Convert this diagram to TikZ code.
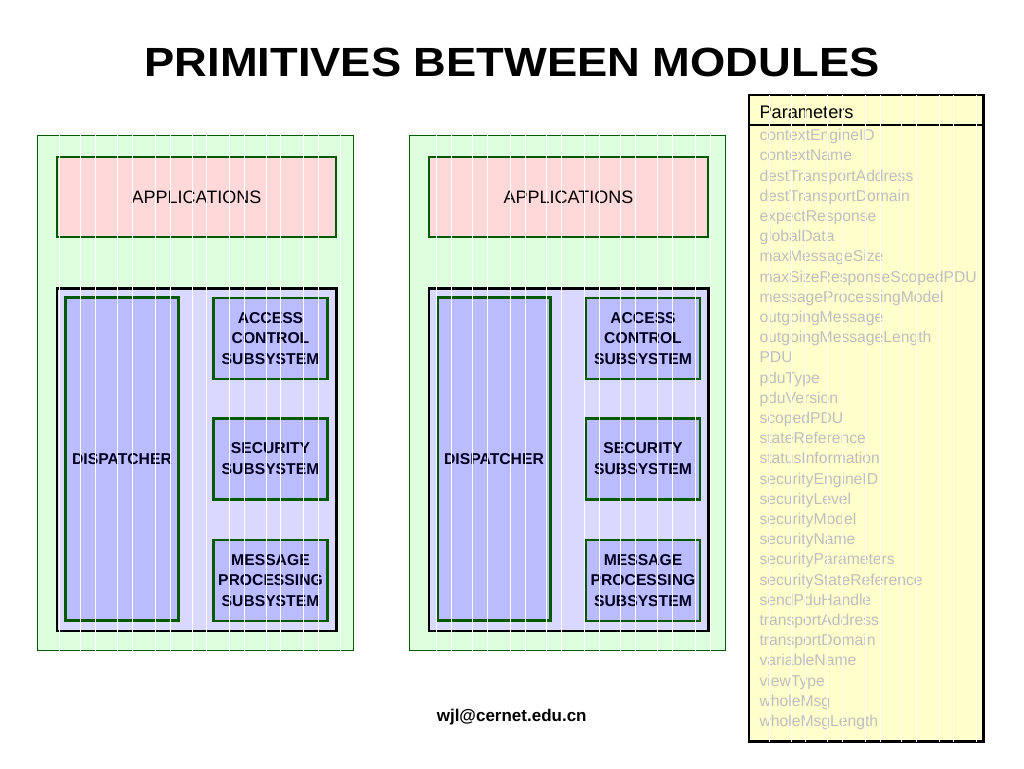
\documentclass[tikz,border=0pt]{standalone}
\usepackage{fontspec}
\setmainfont{Liberation Sans}
\definecolor{panelfill}{RGB}{221,255,221}
\definecolor{panelline}{RGB}{0,90,0}
\definecolor{appfill}{RGB}{255,217,217}
\definecolor{innerfill}{RGB}{217,217,255}
\definecolor{subfill}{RGB}{187,187,255}
\definecolor{paramfill}{RGB}{255,255,204}
\definecolor{graytext}{RGB}{190,190,190}
\definecolor{navytext}{RGB}{0,0,30}
\tikzset{
  panel/.style={draw=panelline, line width=1.5pt, fill=panelfill, inner sep=0pt},
  appbox/.style={draw=panelline, line width=2.5pt, fill=appfill, inner sep=0pt,
    minimum width=279pt, minimum height=80pt, font=\fontsize{18}{20}\selectfont},
  innerbox/.style={draw=black, line width=2.5pt, fill=innerfill, inner sep=0pt,
    minimum width=279.5pt, minimum height=342.7pt},
  subbox/.style={draw=panelline, line width=2.5pt, fill=subfill, inner sep=0pt,
    text=navytext, align=center, font=\fontsize{15.7}{20.5}\selectfont\bfseries},
  parambox/.style={draw=black, line width=2.5pt, fill=paramfill, inner sep=0pt},
  stripe/.style={draw=white, line width=0.75pt},
  item/.style={anchor=base west, inner sep=0pt, text=graytext, font=\fontsize{15.7}{18}\selectfont}
}
\begin{document}
\begin{tikzpicture}[x=1pt,y=-1pt]
\useasboundingbox (0,0) rectangle (1024,768);
\fill[white] (0,0) rectangle (1024,768);

% title
\node[anchor=base, inner sep=0pt] (title) at (512,77)
  {\scalebox{1}[0.9]{\fontsize{45.3}{50}\selectfont\bfseries PRIMITIVES BETWEEN MODULES}};

% ---------- left panel ----------
\node[panel, minimum width=316pt, minimum height=515pt] (lp) at (195.3,393.2) {};
\node[appbox] (lapp) at (196.5,197) {APPLICATIONS};
\node[innerbox] (lin) at (196.7,459.7) {};
\node[subbox, minimum width=112.6pt, minimum height=322.8pt] (ldisp) at (122,459.1) {DISPATCHER};
\node[subbox, minimum width=114pt, minimum height=81pt] (lacc) at (270.5,338.3) {ACCESS\\CONTROL\\SUBSYSTEM};
\node[subbox, minimum width=114pt, minimum height=81pt] (lsec) at (270.5,458.8) {SECURITY\\SUBSYSTEM};
\node[subbox, minimum width=114pt, minimum height=81pt] (lmsg) at (270.5,580.3) {MESSAGE\\PROCESSING\\SUBSYSTEM};
\begin{scope}
  \clip ([shift={(-1,1)}]lp.north west) rectangle ([shift={(1,-1)}]lp.south east);
  \foreach \s in {59,80.7,95.7,117.7,132.7,155,170,192.3,206.7,229,244,266,280.7,303.3,318.3,340}
    \draw[stripe] (\s,120) -- (\s,670);
\end{scope}

% ---------- right panel ----------
\node[panel, minimum width=316pt, minimum height=515pt] (rp) at (567.3,393.2) {};
\node[appbox] (rapp) at (568.5,197) {APPLICATIONS};
\node[innerbox] (rin) at (568.7,459.7) {};
\node[subbox, minimum width=112.6pt, minimum height=322.8pt] (rdisp) at (494,459.1) {DISPATCHER};
\node[subbox, minimum width=114pt, minimum height=81pt] (racc) at (643,338.3) {ACCESS\\CONTROL\\SUBSYSTEM};
\node[subbox, minimum width=114pt, minimum height=81pt] (rsec) at (643,458.8) {SECURITY\\SUBSYSTEM};
\node[subbox, minimum width=114pt, minimum height=81pt] (rmsg) at (643,580.3) {MESSAGE\\PROCESSING\\SUBSYSTEM};
\begin{scope}
  \clip ([shift={(-1,1)}]rp.north west) rectangle ([shift={(1,-1)}]rp.south east);
  \foreach \s in {436,451,472.7,487.7,510,525,546.7,561.7,584,599,620.7,635.7,657.7,672.7,695,710}
    \draw[stripe] (\s,120) -- (\s,670);
\end{scope}

% ---------- parameters ----------
\node[parambox, minimum width=234.3pt, minimum height=646.7pt] (pb) at (866.2,418.3) {};
\coordinate (hl) at (749,125);
\coordinate (hr) at (985,125);
\draw[line width=2pt] (hl) -- (hr);
\node[anchor=base west, inner sep=0pt, font=\fontsize{18.2}{20}\selectfont] (phead) at (759.3,118.3) {Parameters};
\foreach \t [count=\i from 0] in {contextEngineID,contextName,destTransportAddress,destTransportDomain,expectResponse,globalData,maxMessageSize,maxSizeResponseScopedPDU,messageProcessingModel,outgoingMessage,outgoingMessageLength,PDU,pduType,pduVersion,scopedPDU,stateReference,statusInformation,securityEngineID,securityLevel,securityModel,securityName,securityParameters,securityStateReference,sendPduHandle,transportAddress,transportDomain,variableName,viewType,wholeMsg,wholeMsgLength}
  \node[item] (p\i) at (759.3,140.7+20.2*\i) {\t};
\begin{scope}
  \clip ([shift={(-1.5,1.5)}]pb.north west) rectangle ([shift={(2,-1.5)}]pb.south east);
  \foreach \s in {769.3,791,805.7,827.7,842.7,865,880,901.7,916.7,939,953.3,976}
    \draw[stripe] (\s,80) -- (\s,760);
\end{scope}

% footer
\node[anchor=base, inner sep=0pt, font=\fontsize{17}{20}\selectfont\bfseries] (foot) at (511.7,721) {wjl@cernet.edu.cn};
\end{tikzpicture}
\end{document}
